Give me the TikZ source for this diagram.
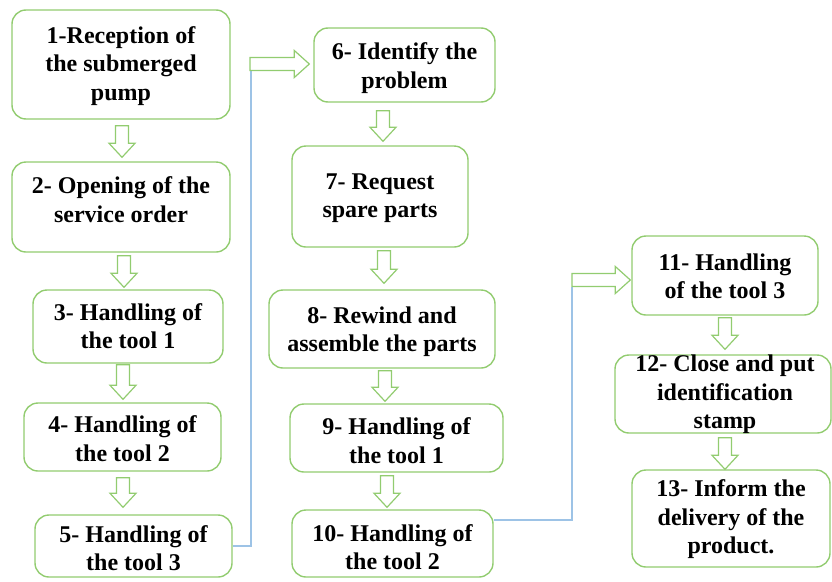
\documentclass[tikz,border=0pt]{standalone}
\usepackage{fontspec}
\setmainfont{Liberation Serif}
\usetikzlibrary{calc}
\definecolor{boxgreen}{RGB}{146,204,112}
\definecolor{lineblue}{RGB}{157,195,230}
\tikzset{
  box/.style={draw=boxgreen, line width=1.4pt, rounded corners=14pt, fill=white, inner sep=0pt},
  txt/.style={align=center, inner sep=0pt, font=\fontsize{24}{28.5}\selectfont\bfseries},
  vblk/.style={draw=boxgreen, line width=1.2pt, fill=white, to path={
    let \p1=(\tikztostart), \p2=(\tikztotarget) in
    (\x1-6.5,\y1) -- (\x1+6.5,\y1) -- (\x1+6.5,\y2+14) -- (\x1+13,\y2+14) -- (\x1,\y2) -- (\x1-13,\y2+14) -- (\x1-6.5,\y2+14) -- cycle}},
  hblk/.style={draw=boxgreen, line width=1.2pt, fill=white, to path={
    let \p1=(\tikztostart), \p2=(\tikztotarget) in
    (\x1,\y1+6.5) -- (\x2-15,\y1+6.5) -- (\x2-15,\y1+13.5) -- (\x2,\y1) -- (\x2-15,\y1-13.5) -- (\x2-15,\y1-6.5) -- (\x1,\y1-6.5) -- cycle}},
  bl/.style={draw=lineblue, line width=1.2pt}
}
\begin{document}
\begin{tikzpicture}[x=1pt,y=1pt]
\useasboundingbox (0,0) rectangle (832,-581);
% boxes
\node[box, minimum width=218pt, minimum height=109pt] (b1) at (121,-64.5) {};
\node[box, minimum width=218pt, minimum height=90pt] (b2) at (121,-207) {};
\node[box, minimum width=190pt, minimum height=73pt] (b3) at (128,-326.5) {};
\node[box, minimum width=197pt, minimum height=68pt] (b4) at (122.5,-437) {};
\node[box, minimum width=197pt, minimum height=62pt] (b5) at (133.5,-546) {};
\node[box, minimum width=181pt, minimum height=74pt] (b6) at (404.5,-65) {};
\node[box, minimum width=176pt, minimum height=101pt] (b7) at (380,-196.5) {};
\node[box, minimum width=226pt, minimum height=78pt] (b8) at (382,-329) {};
\node[box, minimum width=213pt, minimum height=68pt] (b9) at (396.5,-438) {};
\node[box, minimum width=201pt, minimum height=67pt] (b10) at (392.5,-543.5) {};
\node[box, minimum width=186pt, minimum height=79pt] (b11) at (725,-275.5) {};
\node[box, minimum width=216pt, minimum height=78pt] (b12) at (723,-394) {};
\node[box, minimum width=198pt, minimum height=97pt] (b13) at (731,-518.5) {};
% texts
\node[txt] (t1) at ([yshift=-1.5pt]b1.center) {1-Reception of\\the submerged\\pump};
\node[txt] (t2) at ([yshift=7.5pt]b2.center) {2- Opening of the\\service order};
\node[txt] (t3) at ([yshift=0.5pt]b3.center) {3- Handling of\\the tool 1};
\node[txt] (t4) at ([yshift=-1.5pt]b4.center) {4- Handling of\\the tool 2};
\node[txt] (t5) at ([yshift=-2pt]b5.center) {5- Handling of\\the tool 3};
\node[txt] (t6) at ([yshift=-3pt]b6.center) {6- Identify the\\problem};
\node[txt] (t7) at ([yshift=-1.5pt]b7.center) {7- Request\\spare parts};
\node[txt] (t8) at ([yshift=-2.5pt]b8.center) {8- Rewind and\\assemble the parts};
\node[txt] (t9) at ([yshift=-2.5pt]b9.center) {9- Handling of\\the tool 1};
\node[txt] (t10) at ([yshift=-3.5pt]b10.center) {10- Handling of\\the tool 2};
\node[txt] (t11) at ([yshift=-1pt]b11.center) {11- Handling\\of the tool 3};
\node[txt] (t12) at ([shift={(2pt,-0.5pt)}]b12.center) {12- Close and put\\identification\\stamp};
\node[txt] (t13) at ([yshift=-1pt]b13.center) {13- Inform the\\delivery of the\\product.};
% vertical block arrows
\draw[vblk] ([shift={(1pt,-6pt)}]b1.south) to ([yshift=4pt]b2.north);
\draw[vblk] ([shift={(3pt,-3pt)}]b2.south) to ([yshift=2pt]b3.north);
\draw[vblk] ([shift={(-5pt,-1pt)}]b3.south) to ([yshift=3pt]b4.north);
\draw[vblk] ([shift={(0.5pt,-6pt)}]b4.south) to ([yshift=7pt]b5.north);
\draw[vblk] ([shift={(-21.5pt,-8pt)}]b6.south) to ([yshift=4pt]b7.north);
\draw[vblk] ([shift={(4pt,-3pt)}]b7.south) to ([yshift=6pt]b8.north);
\draw[vblk] ([shift={(3pt,-2pt)}]b8.south) to ([yshift=2pt]b9.north);
\draw[vblk] ([shift={(-9.5pt,-3pt)}]b9.south) to ([yshift=2pt]b10.north);
\draw[vblk] ([shift={(0pt,-2pt)}]b11.south) to ([yshift=5pt]b12.north);
\draw[vblk] ([shift={(2pt,-4pt)}]b12.south) to ([yshift=0pt]b13.north);
% horizontal connections
\coordinate (j1) at (250,-64);
\coordinate (j2) at (572,-280);
\draw[bl] (b5.east) -| ([shift={(1pt,-6pt)}]j1);
\draw[hblk] (j1) to ([xshift=-4pt]b6.west);
\draw[bl] ([yshift=23.5pt]b10.east) -| ([yshift=-7pt]j2);
\draw[hblk] (j2) to ([xshift=-1pt]b11.west);
\end{tikzpicture}
\end{document}
